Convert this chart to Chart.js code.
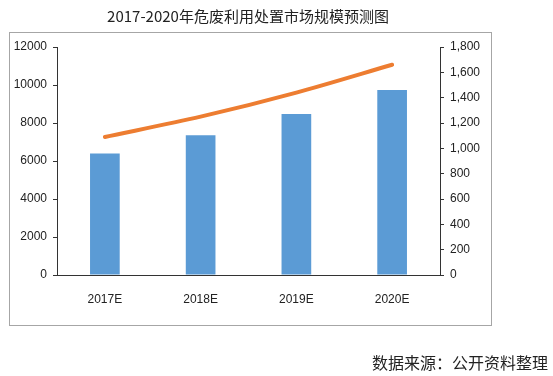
<!doctype html>
<html lang="zh">
<head>
<meta charset="utf-8">
<title>2017-2020年危废利用处置市场规模预测图</title>
<script src="https://cdn.jsdelivr.net/npm/chart.js@4/dist/chart.umd.min.js"></script>
<style>
  html, body { margin: 0; padding: 0; background: #fff; }
  #wrap { position: relative; width: 553px; height: 376px; }
</style>
</head>
<body>
<div id="wrap"><canvas id="canvas"></canvas></div>
<script>
var categories = ['2017E', '2018E', '2019E', '2020E'];
var barValues = [6400, 7360, 8470, 9740];
var lineValues = [1090, 1250, 1440, 1660];
var leftTicks = [0, 2000, 4000, 6000, 8000, 10000, 12000];
var rightTicks = [0, 200, 400, 600, 800, 1000, 1200, 1400, 1600, 1800];

var titleText = '2017-2020年危废利用处置市场规模预测图';
var sourceText = '数据来源：公开资料整理';
var cjkFont = '"Noto Sans CJK SC", sans-serif';
var numFont = '"Liberation Sans Narrow", "Liberation Sans", sans-serif';
var axisColor = '#333';

// frame + title + source text
var decor = {
  id: 'decor',
  beforeDraw: function(chart) {
    var ctx = chart.ctx;
    ctx.save();
    ctx.fillStyle = '#fff';
    ctx.fillRect(0, 0, chart.width, chart.height);
    ctx.strokeStyle = '#a6a6a6';
    ctx.lineWidth = 1;
    ctx.strokeRect(9.5, 32.5, 482, 293);
    ctx.fillStyle = '#222';
    ctx.font = '15px ' + cjkFont;
    ctx.textAlign = 'center';
    ctx.textBaseline = 'middle';
    ctx.fillText(titleText, 248, 16);
    ctx.font = '16px ' + cjkFont;
    ctx.textAlign = 'right';
    ctx.fillText(sourceText, 548, 363);
    ctx.restore();
  }
};

new Chart(document.getElementById('canvas'), {
  data: {
    labels: categories,
    datasets: [{
      type: 'line',
      data: lineValues,
      yAxisID: 'y2',
      borderColor: '#ed7d31',
      borderWidth: 4,
      borderCapStyle: 'round',
      pointRadius: 0,
      tension: 0.3,
      order: 0
    }, {
      type: 'bar',
      data: barValues,
      yAxisID: 'y',
      backgroundColor: '#5b9bd5',
      barPercentage: 0.31,
      categoryPercentage: 1,
      order: 1
    }]
  },
  options: {
    responsive: true,
    maintainAspectRatio: false,
    animation: false,
    layout: { padding: { left: 10, right: 63, top: 47, bottom: 61 } },
    plugins: {
      legend: { display: false },
      title: { display: false },
      tooltip: { enabled: false }
    },
    scales: {
      x: {
        grid: { display: false, drawTicks: false },
        border: { color: axisColor, width: 1 },
        ticks: { padding: 17, color: '#222', font: { family: numFont, size: 12 } },
        afterFit: function(s) { s.height = 40; }
      },
      y: {
        position: 'left',
        min: 0, max: 12000,
        afterBuildTicks: function(s) { s.ticks = leftTicks.map(function(v) { return { value: v }; }); },
        grid: { drawOnChartArea: false, drawTicks: true, tickLength: 4, tickColor: axisColor },
        border: { color: axisColor, width: 1 },
        ticks: { padding: 6, color: '#222', font: { family: numFont, size: 12 },
          callback: function(v) { return String(v); } },
        afterFit: function(s) { s.width = 47; }
      },
      y2: {
        position: 'right',
        min: 0, max: 1800,
        afterBuildTicks: function(s) { s.ticks = rightTicks.map(function(v) { return { value: v }; }); },
        grid: { drawOnChartArea: false, drawTicks: true, tickLength: 4, tickColor: axisColor },
        border: { color: axisColor, width: 1 },
        ticks: { padding: 6, color: '#222', font: { family: numFont, size: 12 },
          callback: function(v) { return v.toLocaleString('en-US'); } },
        afterFit: function(s) { s.width = 50; }
      }
    }
  },
  plugins: [decor]
});
</script>
</body>
</html>
